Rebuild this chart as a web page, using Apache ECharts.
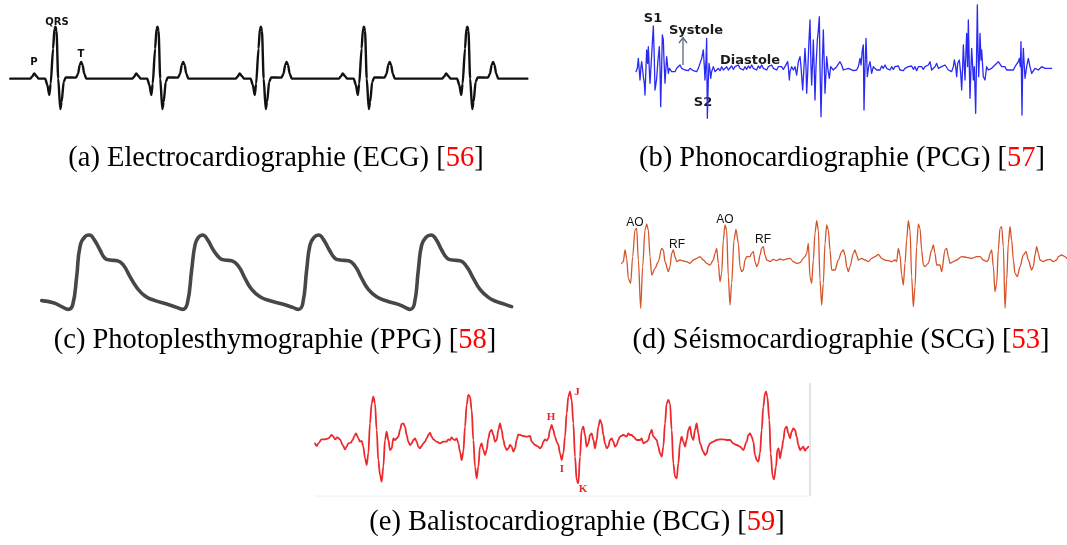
<!DOCTYPE html>
<html><head><meta charset="utf-8">
<script src="https://cdn.jsdelivr.net/npm/echarts@6/dist/echarts.min.js"></script>
<style>html,body{margin:0;padding:0;background:#fff}#c{width:1067px;height:545px}</style>
</head><body><div id="c"></div>
<script>
// ---- signals: [time sample, amplitude] ----
const ecg = [[30,0],
[88,0],[94,6],[100,16],[106,8],[113,0],[132,0],[138,-18],[144,-49],[148,-15],[155,90],[159,150],[162,156],[165,144],[170,0],[176,-91],[180,-70],[186,-10],[192,4],[222,3],[228,15],[233,42],[237,50],[241,42],[246,15],[252,0],
[386,0],[392,6],[398,16],[404,8],[411,0],[430,0],[436,-18],[442,-49],[446,-15],[453,90],[457,150],[460,156],[463,144],[468,0],[474,-91],[478,-70],[484,-10],[490,4],[520,3],[526,15],[531,42],[535,50],[539,42],[544,15],[550,0],
[688,0],[694,6],[700,16],[706,8],[713,0],[732,0],[738,-18],[744,-49],[748,-15],[755,90],[759,150],[762,156],[765,144],[770,0],[776,-91],[780,-70],[786,-10],[792,4],[822,3],[828,15],[833,42],[837,50],[841,42],[846,15],[852,0],
[989,0],[995,6],[1001,16],[1007,8],[1014,0],[1033,0],[1039,-18],[1045,-49],[1049,-15],[1056,90],[1060,150],[1063,156],[1066,144],[1071,0],[1077,-91],[1081,-70],[1087,-10],[1093,4],[1123,3],[1129,15],[1134,42],[1138,50],[1142,42],[1147,15],[1153,0],
[1291,0],[1297,6],[1303,16],[1309,8],[1316,0],[1335,0],[1341,-18],[1347,-49],[1351,-15],[1358,90],[1362,150],[1365,156],[1368,144],[1373,0],[1379,-91],[1383,-70],[1389,-10],[1395,4],[1425,3],[1431,15],[1436,42],[1440,50],[1444,42],[1449,15],[1455,0],
[1540,0]];

const pcg = [[18,-5],[22,5],[25,35],[28,30],[30,-30],[33,10],[35,25],[38,0],[40,-20],[43,-40],[45,-75],[48,10],[50,60],[53,20],[55,70],[58,0],[60,-40],[63,10],[67,80],[70,132],[73,30],[75,-60],[78,-40],[80,-25],[84,30],[88,70],[90,10],[92,-110],[95,10],[97,105],[100,90],[102,30],[105,-40],[108,10],[110,40],[113,10],[115,-10],[118,5],[120,10],[125,-5],
[130,0],[135,-5],[140,5],[145,0],[150,15],[155,5],[160,10],[165,0],[170,5],[175,-2],[180,5],[185,5],[190,-2],[195,2],[200,-5],[205,5],
[210,20],[215,35],[220,60],[223,10],[225,-30],[228,30],[230,95],[232,-145],[235,-30],[237,20],[240,0],[242,-25],[245,-5],[250,10],[255,-5],[258,0],
[265,5],[270,-2],[275,10],[280,0],[285,5],[290,10],[295,0],[300,5],[305,12],[310,2],[315,10],[320,5],[325,15],[330,5],[335,10],[340,0],[345,10],[350,2],[355,12],[360,5],[365,15],[370,5],[375,10],[380,0],[385,12],[390,5],[395,15],[400,5],[405,10],[410,0],[415,10],[420,5],[425,15],[430,5],[435,8],[440,0],[445,10],[450,5],[455,10],[460,2],[465,10],
[470,15],[473,25],[475,10],[478,-30],[480,-5],[485,10],[490,0],[495,10],[500,-15],[505,25],[510,40],[513,10],[518,-60],[522,10],[525,65],[528,10],[530,-70],[533,-10],[537,90],[540,150],[543,10],[545,-45],[548,30],[550,90],[553,-10],[555,-90],[558,10],[562,90],[565,120],[568,160],[570,10],[573,-140],[576,-10],[580,120],[583,10],[585,-70],[588,-10],[590,40],[594,0],[598,-25],[602,10],
[605,10],[610,0],[615,-5],[620,10],[625,15],[630,25],[635,15],[640,0],[645,0],[655,5],[660,5],[670,-2],[680,0],
[685,10],[690,35],[693,15],[697,60],[700,75],[702,-120],[705,10],[708,95],[712,-20],[716,10],[720,25],[725,-10],[730,10],
[735,15],[740,0],[745,5],[750,0],[755,12],[760,5],[765,15],[770,5],[775,8],[780,0],[785,10],[790,2],[795,10],[800,5],[805,12],[810,0],[815,5],[820,-2],[825,5],[830,0],[835,10],[840,5],[845,12],[850,2],[855,10],[860,-2],[865,10],[870,5],[875,10],[880,2],[885,10],[890,5],[895,15],[900,25],[905,0],[910,-5],[915,10],[920,20],[925,5],[930,0],[935,10],[940,5],[945,15],[950,10],[955,0],[960,5],[965,-5],
[970,10],[973,30],[977,10],[980,-20],[983,20],[988,30],[992,-10],[995,-60],[998,10],[1000,75],[1003,10],[1005,-30],[1008,60],[1010,110],[1013,10],[1015,150],[1018,10],[1020,-85],[1023,10],[1025,65],[1028,10],[1030,-30],[1033,10],[1037,-130],[1040,60],[1042,195],[1044,60],[1046,-20],[1048,30],[1050,110],[1053,30],[1055,60],[1058,10],[1060,-20],[1065,-30],
[1070,10],[1075,0],[1080,-5],[1085,5],[1090,10],[1095,15],[1100,20],[1105,25],[1110,25],[1115,10],[1120,5],[1125,10],[1130,0],[1135,5],[1140,0],[1145,5],[1150,0],[1155,10],[1160,5],
[1165,25],[1168,35],[1171,10],[1173,85],[1176,-135],[1178,10],[1180,65],[1183,10],[1185,-25],[1190,10],[1195,35],[1200,10],[1205,-10],
[1210,-5],[1215,5],[1220,5],[1225,0],[1230,5],[1235,10],[1240,10],[1245,5],[1250,10],[1255,5],[1260,10],[1265,5]];

const ppg = [[35,58],[70,52],[95,40],[115,32],[128,45],[140,130],[150,220],[165,250],[178,255],[192,242],[210,210],[225,185],[240,180],[262,178],[280,165],[300,130],[320,98],[345,72],[375,58],[410,48],[440,38],[458,32],
[472,50],[485,150],[495,225],[505,248],[518,255],[532,242],[550,210],[570,185],[585,180],[605,178],[625,162],[645,125],[665,92],[690,70],[720,58],[760,47],[790,37],[805,32],
[818,48],[830,150],[840,225],[852,248],[866,255],[880,242],[898,210],[915,185],[930,180],[955,178],[975,162],[995,125],[1015,92],[1040,70],[1070,57],[1105,47],[1125,38],[1140,32],
[1153,48],[1165,150],[1175,225],[1188,248],[1203,255],[1218,242],[1235,210],[1252,185],[1268,180],[1290,178],[1310,160],[1330,125],[1350,92],[1375,68],[1400,55],[1425,47],[1445,40]];

const scg = [[35,-5],[40,0],[45,35],[50,10],[55,-50],[62,-65],[68,15],[75,95],[80,100],[85,5],[92,-140],[98,-15],[105,95],[110,113],[115,95],[120,15],[125,-40],[135,-20],[145,0],[155,40],[160,35],[165,0],[175,-30],[180,-15],[185,25],[190,35],[195,15],[200,0],
[210,5],[220,2],[230,0],[240,-5],[250,5],[260,10],[270,15],[280,5],[290,-5],[300,-10],[310,5],[315,25],[320,40],[325,-5],[330,-60],[335,-35],[340,65],[345,110],[350,95],[355,-45],[360,-130],[365,-65],[372,65],[378,97],[385,55],[390,-15],[395,-30],[400,-25],[405,5],[410,15],[420,15],[425,25],[430,30],[435,0],[440,-15],[445,-5],[450,20],[455,40],[460,45],[465,20],[470,5],[475,3],[480,0],
[490,7],[500,3],[510,8],[520,5],[530,8],[540,10],[550,0],[560,-5],[570,-3],[580,10],[585,15],[590,25],[595,55],[600,-45],[605,-65],[610,5],[615,85],[620,123],[625,95],[630,-55],[635,-130],[640,-65],[645,55],[650,110],[655,95],[660,35],[665,-25],[675,-25],[685,5],[695,30],[700,35],[705,20],[710,-15],[715,-30],[720,-15],[730,25],[735,35],[740,20],[745,5],
[755,10],[765,5],[775,0],[785,10],[795,15],[805,22],[815,10],[825,5],[835,3],[845,0],[855,5],[860,0],[865,40],[870,20],[875,-40],[880,-70],[885,-5],[890,65],[895,123],[900,95],[905,-45],[910,-135],[915,-75],[920,45],[925,113],[930,100],[935,35],[940,-10],[945,-15],[955,-5],[965,35],[970,50],[975,25],[980,-10],[990,-10],[995,-30],[1005,35],[1010,40],[1015,15],[1020,-5],
[1030,0],[1040,5],[1055,15],[1070,13],[1085,10],[1100,15],[1110,15],[1120,5],[1130,0],[1135,5],[1140,25],[1145,35],[1150,-15],[1155,-90],[1160,-65],[1165,35],[1170,100],[1175,105],[1180,45],[1185,-140],[1190,-55],[1195,55],[1200,105],[1205,65],[1210,5],[1215,-35],[1222,-45],[1230,-15],[1240,20],[1248,30],[1255,5],[1265,-25],[1270,-15],[1275,20],[1280,45],[1285,25],[1290,5],
[1300,0],[1310,5],[1320,7],[1330,0],[1340,5],[1345,15],[1355,20],[1365,15],[1370,10]];

const bcg = [[45,-5],[50,-13],[55,-5],[65,7],[75,7],[85,10],[95,20],[100,15],[105,7],[112,13],[120,7],[128,-10],[135,-23],[140,-15],[145,-5],[152,-3],[158,5],[163,17],[168,25],[175,10],[180,0],[185,2],[190,-15],[195,-50],[200,-70],[205,-35],[210,55],[215,115],[220,135],[225,115],[230,35],[235,-55],[240,-100],[245,-120],[250,-75],[255,5],[260,30],[265,5],[270,-25],[275,-20],[280,10],[285,5],[290,10],[295,15],[300,35],[305,53],[310,55],[315,45],[320,20],[325,0],[330,-10],[335,-5],[340,5],[345,10],[350,0],[355,-15],[360,-20],[365,-13],[370,-5],[375,0],[380,10],[385,20],[390,27],[395,15],[400,7],[410,0],[420,-5],[430,0],[440,0],[445,7],[450,5],[455,13],[460,7],[465,5],[470,10],[475,-5],[480,-30],[485,-55],[490,-30],[495,45],[500,110],[505,140],[510,135],[515,95],[520,5],[525,-75],[530,-110],[535,-75],[540,-15],[545,-5],[550,-25],[555,-40],[560,-25],[565,10],[570,30],[575,35],[580,20],[585,0],[590,5],[595,35],[600,55],[605,35],[610,5],[615,-15],[620,-25],[625,-20],[630,-10],[635,-15],[640,-30],[645,-20],[650,5],[655,22],[660,20],[670,17],[680,15],[690,17],[695,0],[705,-10],[715,-15],[720,-20],[725,-15],[730,0],[735,7],[740,3],[745,10],[750,35],[755,50],[760,35],[765,15],[770,0],[775,-10],[780,-35],[785,-55],[790,-35],[795,15],[800,85],[805,135],[810,150],[815,125],[820,55],[825,-45],[830,-115],[835,-125],[840,-45],[845,35],[850,45],[855,20],[860,-15],[865,-5],[870,20],[875,25],[880,5],[885,-20],[890,5],[895,45],[900,65],[905,55],[910,20],[915,-5],[920,-20],[925,-15],[930,5],[935,10],[940,0],[945,-15],[950,-10],[955,5],[960,15],[970,20],[980,15],[985,25],[990,20],[995,20],[1000,15],[1010,5],[1020,5],[1025,10],[1030,-5],[1040,0],[1045,5],[1050,25],[1055,35],[1060,15],[1070,5],[1075,-15],[1080,-35],[1085,-45],[1090,-15],[1095,55],[1100,115],[1105,125],[1110,115],[1115,35],[1120,-65],[1125,-105],[1130,-110],[1135,-65],[1140,-5],[1145,15],[1150,0],[1155,-15],[1160,5],[1165,35],[1170,45],[1175,15],[1180,5],[1185,35],[1190,55],[1195,25],[1200,-5],[1210,-30],[1215,-40],[1220,-35],[1225,-15],[1230,-5],[1240,0],[1250,5],[1260,7],[1270,7],[1280,5],[1290,5],[1300,-5],[1310,-10],[1320,-15],[1330,-25],[1340,0],[1345,20],[1350,25],[1355,15],[1360,0],[1365,-40],[1370,-55],[1375,-60],[1380,-35],[1385,35],[1390,105],[1395,145],[1398,150],[1402,135],[1408,65],[1412,-35],[1418,-105],[1422,-113],[1428,-75],[1432,-25],[1436,-20],[1440,-50],[1445,-25],[1450,5],[1455,40],[1460,45],[1465,25],[1470,10],[1475,30],[1480,40],[1485,35],[1490,15],[1495,-10],[1500,-25],[1505,-20],[1510,-15],[1515,-27],[1520,-20],[1525,-15]];

// ---- texts ----
const captions = [
  ['(a) Electrocardiographie (ECG) [', '56'],
  ['(b) Phonocardiographie (PCG) [', '57'],
  ['(c) Photoplesthymographie (PPG) [', '58'],
  ['(d) Séismocardiographie (SCG) [', '53'],
  ['(e) Balistocardiographie (BCG) [', '59']
];
const ecgLabels = ['P', 'QRS', 'T'];
const pcgLabels = ['S1', 'Systole', 'Diastole', 'S2'];
const scgLabels = ['AO', 'RF', 'AO', 'RF'];
const bcgLabels = ['H', 'J', 'I', 'K'];

// ---- layout (panel boxes in px, axis extents in sample units) ----
const panels = [
  {box:[0,0,540,140],   x:[0,1577], y:[-184,236], data:ecg, color:'#111111', w:2.4, smooth:0.25, mono:'x'},
  {box:[630,0,430,125], x:[0,1290], y:[-165,210], data:pcg, color:'#2a2af5', w:1.3, smooth:0, mono:null},
  {box:[30,210,500,110],x:[0,1500], y:[0,330],    data:ppg, color:'#474747', w:3.6, smooth:0.5, mono:null},
  {box:[610,200,457,120],x:[0,1371],y:[-175,185], data:scg, color:'#d5552b', w:1.3, smooth:0.3, mono:'x'},
  {box:[300,380,520,120],x:[0,1560],y:[-175,185], data:bcg, color:'#ec2a2e', w:1.8, smooth:0.35, mono:'x'}
];

const grid = [], xAxis = [], yAxis = [], series = [];
panels.forEach((p, i) => {
  grid.push({left:p.box[0], top:p.box[1], width:p.box[2], height:p.box[3], show:false});
  xAxis.push({type:'value', gridIndex:i, min:p.x[0], max:p.x[1], show:false});
  yAxis.push({type:'value', gridIndex:i, min:p.y[0], max:p.y[1], show:false});
  const s = {type:'line', xAxisIndex:i, yAxisIndex:i, data:p.data, symbol:'none',
    smooth:p.smooth, silent:true,
    lineStyle:{color:p.color, width:p.w, cap:'round', join:'round'}};
  if (p.mono) s.smoothMonotone = p.mono;
  series.push(s);
});

function txt(x, y, s, font, fill) {
  return {type:'text', x:x, y:y, silent:true,
    style:{text:s, font:font, fill:fill, textAlign:'center', textVerticalAlign:'middle', align:'center', verticalAlign:'middle'}};
}
const capSize = 28.5;
const capPos = [[276,159],[842,159],[275,341],[841,341],[577,523]];
const graphic = [];
captions.forEach((c, i) => {
  graphic.push({type:'text', x:capPos[i][0], y:capPos[i][1], silent:true,
    style:{text:'{n|' + c[0] + '}{r|' + c[1] + '}{n|]}', textAlign:'center', textVerticalAlign:'middle', align:'center', verticalAlign:'middle',
      font:capSize + 'px "Liberation Serif"', fill:'#000',
      rich:{n:{fill:'#000', fontSize:capSize, fontFamily:'Liberation Serif'}, r:{fill:'#ff0000', fontSize:capSize, fontFamily:'Liberation Serif'}}}});
});
const sansB = 'bold 10px "DejaVu Sans"';
graphic.push(txt(34,62,ecgLabels[0],sansB,'#111'), txt(57,22,ecgLabels[1],sansB,'#111'), txt(81,54,ecgLabels[2],sansB,'#111'));
const pcgF = 'bold 13px "DejaVu Sans"';
graphic.push(txt(653,19,pcgLabels[0],pcgF,'#1a1a1a'), txt(696,31,pcgLabels[1],pcgF,'#1a1a1a'), txt(750,61,pcgLabels[2],pcgF,'#1a1a1a'), txt(703,103,pcgLabels[3],pcgF,'#1a1a1a'));
graphic.push({type:'line', silent:true, shape:{x1:683,y1:65,x2:683,y2:38}, style:{stroke:'#55677f', lineWidth:1.3}});
graphic.push({type:'polyline', silent:true, shape:{points:[[679,43],[683,37.5],[687,43]]}, style:{stroke:'#55677f', lineWidth:1.3, fill:null}});
const scgF = '12px "Liberation Sans"';
graphic.push(txt(635,223,scgLabels[0],scgF,'#111'), txt(677,245,scgLabels[1],scgF,'#111'), txt(725,220,scgLabels[2],scgF,'#111'), txt(763,240,scgLabels[3],scgF,'#111'));
const bcgF = 'bold 11px "Liberation Serif"';
graphic.push(txt(551,417,bcgLabels[0],bcgF,'#e8262e'), txt(577,392,bcgLabels[1],bcgF,'#e8262e'), txt(562,469,bcgLabels[2],bcgF,'#e8262e'), txt(583,489,bcgLabels[3],bcgF,'#e8262e'));
graphic.push({type:'line', silent:true, shape:{x1:810,y1:383,x2:810,y2:496}, style:{stroke:'#c8c8c8', lineWidth:1}});
graphic.push({type:'line', silent:true, shape:{x1:315,y1:496,x2:810,y2:496}, style:{stroke:'#eeeeee', lineWidth:1}});

const chart = echarts.init(document.getElementById('c'), null, {renderer:'canvas'});
chart.setOption({animation:false, backgroundColor:'#fff', grid, xAxis, yAxis, series, graphic});
</script></body></html>
